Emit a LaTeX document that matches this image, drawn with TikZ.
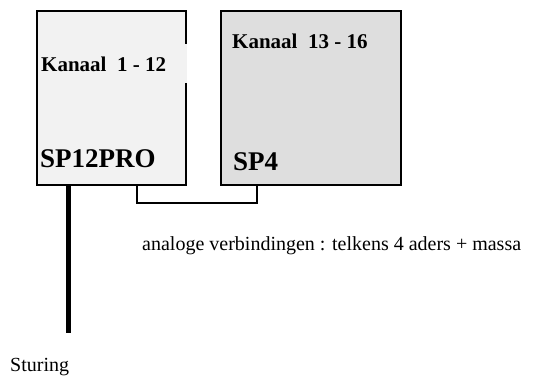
\documentclass[tikz,border=0pt]{standalone}
\usepackage{fontspec}
\setmainfont{Liberation Serif}
\definecolor{boxA}{HTML}{F2F2F2}
\definecolor{boxB}{HTML}{DEDEDE}
\begin{document}
\begin{tikzpicture}[x=1pt,y=-1pt,
  unitbox/.style={draw=black,line width=2.3pt,anchor=north west,inner sep=0pt},
  chanlbl/.style={anchor=base west,inner sep=0pt,font=\bfseries\fontsize{21}{21}\selectfont},
  unitlbl/.style={anchor=base west,inner sep=0pt,font=\bfseries\fontsize{27}{27}\selectfont},
  notelbl/.style={anchor=base west,inner sep=0pt,font=\fontsize{20}{20}\selectfont},
  wire/.style={draw=black,line width=2pt},
  ctrl/.style={draw=black,line width=5pt}]
\useasboundingbox (0,0) rectangle (553,376);
% the two units
\node[unitbox,fill=boxA,minimum width=149pt,minimum height=174pt] (sp12) at (36,10) {};
\node[unitbox,fill=boxB,minimum width=180pt,minimum height=174pt] (sp4) at (220,10) {};
% channel labels; the first one sits on a plate that breaks the right edge
\node[fill=boxA,anchor=north west,inner sep=0pt,minimum width=149pt,minimum height=39pt] (k1bg) at (38,44) {};
\node[chanlbl] (k1) at (41,71) {Kanaal\ \ 1 - 12};
\node[chanlbl] (k2) at (232,48) {Kanaal\ \ 13 - 16};
\node[unitlbl] (n1) at (40,167) {SP12PRO};
\node[unitlbl] (n2) at (233,170) {SP4};
% wiring
\coordinate (a1) at (137,203);
\coordinate (a2) at (257,203);
\draw[wire] (sp12.south west -| a1) -- (a1) -- (a2) -- (sp4.south west -| a2);
\coordinate (c1) at (68.5,333);
\draw[ctrl] (sp12.south west -| c1) -- (c1);
\node[notelbl] (t1) at (142,250) {analoge verbindingen : telkens 4 aders + massa};
\node[notelbl] (t2) at (10,371) {Sturing};
\end{tikzpicture}
\end{document}
